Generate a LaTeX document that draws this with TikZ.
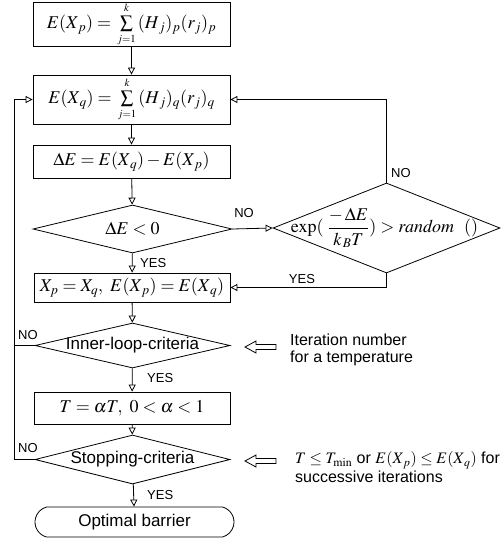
\documentclass[tikz,border=0pt]{standalone}
\usepackage{mathptmx}
\usepackage[no-math]{fontspec}
\setmainfont{Liberation Sans}
\usetikzlibrary{arrows.meta,shapes.geometric,shapes.misc}
\newcommand{\mysum}{\,\sum\limits_{\scriptscriptstyle\vphantom{k}j=1}^{\scriptscriptstyle k\vphantom{j}}\,}
\tikzset{
  ln/.style={line width=0.8pt},
  proc/.style={draw, ln, rectangle, minimum width=197pt, inner sep=0pt, font=\fontsize{18}{20}\selectfont},
  dec/.style={draw, ln, diamond, inner sep=0pt},
  dfont/.style={font=\fontsize{17}{19}\selectfont},
  term/.style={draw, ln, rounded rectangle, rounded rectangle arc length=150, inner sep=0pt, font=\fontsize{17}{19}\selectfont},
  lab/.style={inner sep=0pt, font=\fontsize{13}{15}\selectfont},
  ann/.style={inner sep=0pt, anchor=west, align=left},
  flow/.style={ln, -{Triangle[open, length=7pt, width=7pt]}},
  hollow/.style={ln, fill=white}
}
\begin{document}
\begin{tikzpicture}[x=1pt, y=-1pt]
\useasboundingbox (0,0) rectangle (502,539);
% boxes
\node[proc, minimum height=39pt] (b1) at (131.5,24.5) {$E(X_{\,p}) = \mysum (H_{\,j})_{p}(r_{j})_{p}$};
\node[proc, minimum height=49pt] (b2) at (131.5,99.5) {$E(X_{\,q}) = \mysum (H_{\,j})_{q}(r_{j})_{q}$};
\node[proc, minimum height=33pt] (b3) at (131.5,161.5) {$\Delta E = E(X_{\,q}) - E(X_{\,p})$};
\node[dec, minimum width=199pt, minimum height=48pt, label={[font=\fontsize{18}{20}\selectfont]center:$\Delta E < 0$}] (d1) at (132.5,229) {};
\node[dec, minimum width=227pt, minimum height=90pt, label={[font=\fontsize{18}{20}\selectfont, xshift=-2pt]center:$\exp(\;\displaystyle\frac{-\,\Delta E}{k_{\,B}T}) > \mathit{random}\ \ ()$}] (d2) at (386.5,228) {};
\node[proc, minimum width=196pt, minimum height=29pt] (b4) at (132,287.5) {$X_{p} = X_{q},\ E(X_{\,p}) = E(X_{\,q})$};
\node[dec, minimum width=195pt, minimum height=45pt, label={[dfont]center:Inner-loop-criteria}] (d3) at (132.5,345.5) {};
\node[proc, minimum width=196pt, minimum height=32pt] (b5) at (132,408) {$T = \alpha T,\ 0 < \alpha < 1$};
\node[dec, minimum width=195pt, minimum height=49pt, label={[dfont]center:Stopping-criteria}] (d4) at (132.5,459.5) {};
\node[term, minimum width=199pt, minimum height=30pt] (t) at (134.5,522) {Optimal barrier};
% main flow
\draw[flow] (b1) -- (b2);
\draw[flow] (b2) -- (b3);
\draw[flow] (b3) -- (d1);
\draw[flow] (d1) -- (b4);
\draw[flow] (d1.east) -- (d2.west);
\draw[flow] (d2.north) |- (b2.east);
\draw[flow] (d2.south) |- (b4.east);
\draw[flow] (b4) -- (d3);
\draw[flow] (d3) -- (b5);
\draw[flow] (b5) -- (d4);
\draw[flow] (d4) -- (t);
% left feedback
\coordinate (lx) at (14,0);
\draw[ln] (d3.west) -- (d3.west -| lx);
\draw[flow] (d4.west) -- (d4.west -| lx) -- (lx |- b2.west) -- (b2.west);
% labels
\node[lab, anchor=west] (y1) at (140,263) {YES};
\node[lab] (n1) at (244,213) {NO};
\node[lab, anchor=west] (n2) at (391,173) {NO};
\node[lab] (y2) at (302,279) {YES};
\node[lab, anchor=west] (n3) at (18,335) {NO};
\node[lab, anchor=west] (n4) at (18,448) {NO};
\node[lab, anchor=west] (y3) at (147,378) {YES};
\node[lab, anchor=west] (y4) at (147,495) {YES};
% hollow arrows
\draw[hollow] (245,347) -- (256,341) -- (256,344.5) -- (276,344.5) -- (276,349.5) -- (256,349.5) -- (256,353) -- cycle;
\draw[hollow] (245,461) -- (256,455) -- (256,458.5) -- (276,458.5) -- (276,463.5) -- (256,463.5) -- (256,467) -- cycle;
% annotations
\node[ann, font=\fontsize{16}{17}\selectfont] (a1) at (290,350) {Iteration number\\for a temperature};
\node[ann, font=\fontsize{16}{19}\selectfont] (a2) at (295,467.5) {$T \le T_{\min}$ or $E(X_{\,p}) \le E(X_{\,q})$ for\\successive iterations};
\end{tikzpicture}
\end{document}
